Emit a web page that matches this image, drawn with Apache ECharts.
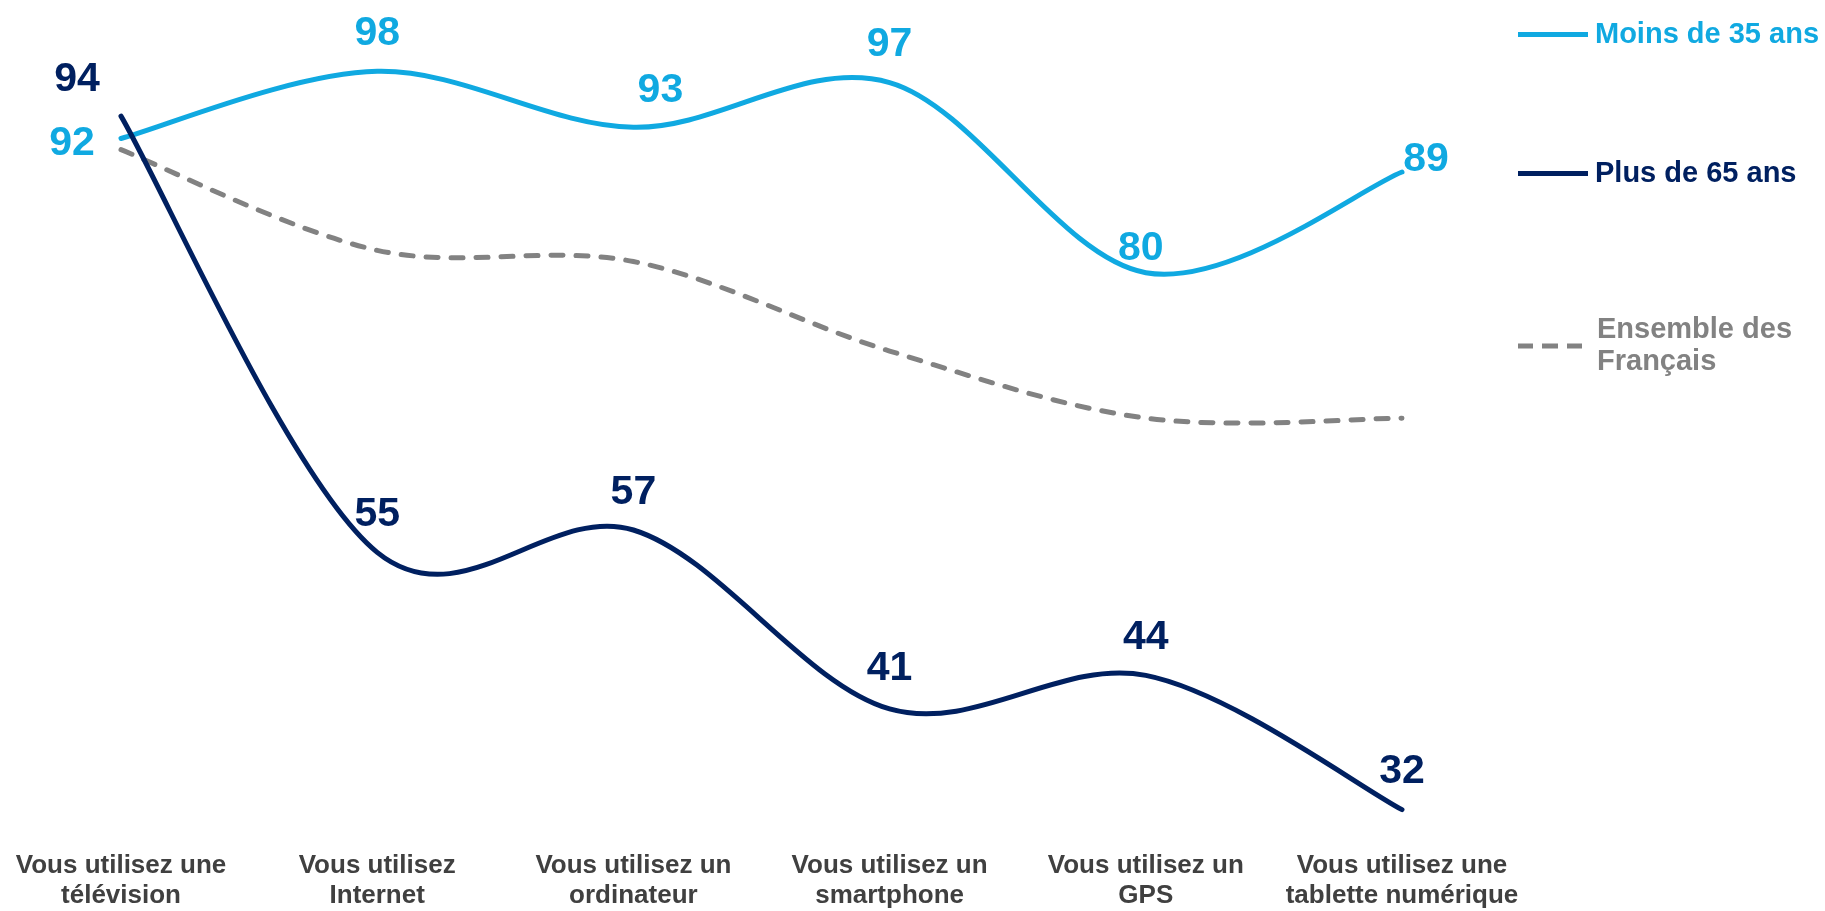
<!DOCTYPE html>
<html>
<head>
<meta charset="utf-8">
<title>Usages</title>
<script src="https://cdn.jsdelivr.net/npm/echarts@6/dist/echarts.min.js"></script>
<style>
    html, body { margin: 0; padding: 0; background: #fff; }
    #main { width: 1825px; height: 911px; }
</style>
</head>
<body>
<div id="main"></div>
<script>
// categories and values
var categories = ["Vous utilisez une\ntélévision", "Vous utilisez\nInternet", "Vous utilisez un\nordinateur",
    "Vous utilisez un\nsmartphone", "Vous utilisez un\nGPS", "Vous utilisez une\ntablette numérique"];
var moins35 = [92, 98, 93, 97, 80, 89];
var plus65 = [94, 55, 57, 41, 44, 32];
var ensemble = [91, 82, 81, 73, 67, 67];

var fontFam = '"Liberation Sans", Arial, sans-serif';
var cMoins = '#10a9e1', cPlus = '#002060', cEns = '#828282';

// label nudges for the values that are not simply above the point
var moinsOffsets = { 0: [-49, 43], 2: [27, 1], 4: [-5, 13], 5: [24, 25] };
var plusOffsets = { 0: [-44, 1], 3: [0, -3] };

function withOffsets(values, offsets) {
    var out = [];
    for (var i = 0; i < values.length; i++) {
        if (offsets[i]) out.push({ value: values[i], label: { offset: offsets[i] } });
        else out.push(values[i]);
    }
    return out;
}

function pairs(values) {
    var out = [];
    for (var i = 0; i < values.length; i++) out.push([i, values[i]]);
    return out;
}

// smooth curve like the office charts (catmull-rom), drawn once through the axes
function curve(values, lineStyle) {
    return function (params, api) {
        if (params.dataIndex !== 0) return null;
        var p = [];
        for (var i = 0; i < values.length; i++) p.push(api.coord([i, values[i]]));
        var d = 'M' + p[0][0] + ',' + p[0][1];
        for (var i = 0; i < p.length - 1; i++) {
            var a = p[Math.max(i - 1, 0)], b = p[i], c = p[i + 1], e = p[Math.min(i + 2, p.length - 1)];
            var c1x = b[0] + (c[0] - a[0]) / 6, c1y = b[1] + (c[1] - a[1]) / 6;
            var c2x = c[0] - (e[0] - b[0]) / 6, c2y = c[1] - (e[1] - b[1]) / 6;
            d += ' C' + c1x + ',' + c1y + ' ' + c2x + ',' + c2y + ' ' + c[0] + ',' + c[1];
        }
        return {
            type: 'path',
            shape: { pathData: d },
            style: lineStyle
        };
    };
}

function lbl(color) {
    return {
        show: true, position: 'top', distance: 17,
        color: color, fontSize: 41, fontWeight: 'bold', fontFamily: fontFam
    };
}

function legendText(color) {
    return { color: color, fontSize: 29, fontWeight: 'bold', fontFamily: fontFam };
}

var solidIcon = 'path://M0,0 L70,0 L70,5 L0,5 Z';
var dashIcon = 'path://M0,0 L15,0 L15,5 L0,5 Z M24,0 L40,0 L40,5 L24,5 Z M49,0 L64,0 L64,5 L49,5 Z';

var myChart = echarts.init(document.getElementById('main'));

var option = {
    animation: false,
    grid: { left: 121, right: 423, top: 49, bottom: 76 },
    legend: [
        {
            data: ['Moins de 35 ans'], left: 1518, top: 20, padding: 0,
            icon: solidIcon, itemWidth: 74, itemHeight: 5,
            itemStyle: { color: cMoins }, textStyle: legendText(cMoins)
        },
        {
            data: ['Plus de 65 ans'], left: 1518, top: 159, padding: 0,
            icon: solidIcon, itemWidth: 74, itemHeight: 5,
            itemStyle: { color: cPlus }, textStyle: legendText(cPlus)
        },
        {
            data: ['Ensemble des\nFrançais'], left: 1518, top: 298, padding: 0,
            icon: dashIcon, itemWidth: 64, itemHeight: 5,
            itemStyle: { color: cEns },
            textStyle: { color: cEns, fontSize: 29, fontWeight: 'bold', fontFamily: fontFam,
                lineHeight: 32, padding: [32, 0, 0, 10] }
        }
    ],
    xAxis: {
        type: 'category',
        data: categories,
        boundaryGap: false,
        axisLine: { show: false },
        axisTick: { show: false },
        axisLabel: {
            color: '#404040', fontSize: 26, fontWeight: 'bold', fontFamily: fontFam,
            lineHeight: 30, margin: 19, interval: 0
        }
    },
    yAxis: {
        type: 'value', min: 30, max: 100,
        show: false,
        splitLine: { show: false }
    },
    series: [
        {
            name: 'Ensemble des\nFrançais', type: 'custom', data: pairs(ensemble),
            encode: { x: 0, y: 1 }, itemStyle: { color: cEns },
            renderItem: curve(ensemble, { fill: null, stroke: cEns, lineWidth: 5, lineDash: [12, 13], lineCap: 'round' })
        },
        {
            name: 'Moins de 35 ans', type: 'custom', data: pairs(moins35),
            encode: { x: 0, y: 1 }, itemStyle: { color: cMoins },
            renderItem: curve(moins35, { fill: null, stroke: cMoins, lineWidth: 5, lineCap: 'round' })
        },
        {
            name: 'Plus de 65 ans', type: 'custom', data: pairs(plus65),
            encode: { x: 0, y: 1 }, itemStyle: { color: cPlus },
            renderItem: curve(plus65, { fill: null, stroke: cPlus, lineWidth: 5, lineCap: 'round' })
        },
        // value labels
        {
            type: 'line', silent: true, symbol: 'circle', symbolSize: 0,
            data: withOffsets(moins35, moinsOffsets),
            lineStyle: { opacity: 0 }, itemStyle: { color: cMoins },
            label: lbl(cMoins)
        },
        {
            type: 'line', silent: true, symbol: 'circle', symbolSize: 0,
            data: withOffsets(plus65, plusOffsets),
            lineStyle: { opacity: 0 }, itemStyle: { color: cPlus },
            label: lbl(cPlus)
        }
    ]
};

myChart.setOption(option);
</script>
</body>
</html>
